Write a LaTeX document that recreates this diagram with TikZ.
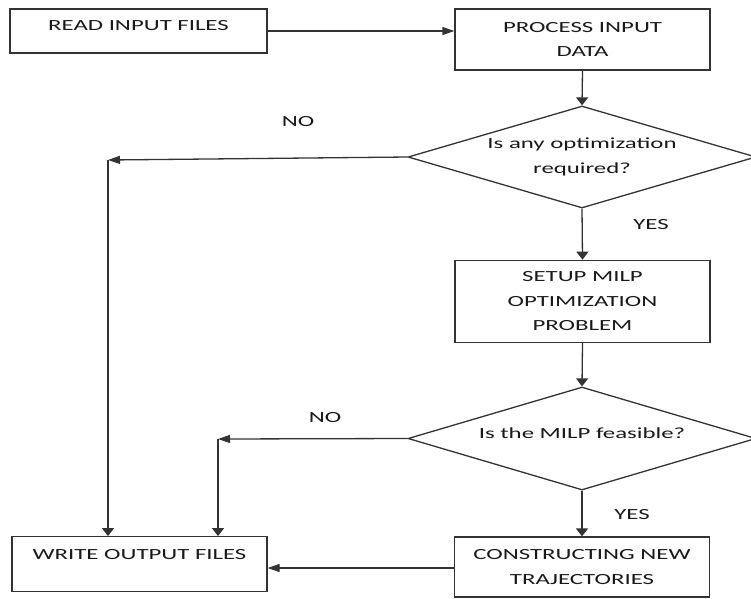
\documentclass[tikz,border=0pt]{standalone}
\usepackage{fontspec}
\setmainfont{Carlito}[FakeStretch=1.6]
\usetikzlibrary{shapes.geometric,arrows.meta}
\newcommand\liftby[2]{\raisebox{#1}[\height][\depth]{#2}}
\tikzset{
  txtfont/.style={font=\fontsize{15.5}{24.4}\selectfont, text=black!90},
  box/.style={draw=black!80, line width=1.3pt, rectangle, minimum width=255pt, inner sep=0pt, align=center, txtfont},
  dec/.style={draw=black!80, line width=1.3pt, diamond, aspect=3.4, inner sep=0pt, minimum width=348pt, align=center, txtfont},
  lab/.style={txtfont, inner sep=0pt},
  harr/.style={draw=black!80, line width=1.3pt, -{Triangle[length=12pt,width=8pt]}},
  varr/.style={draw=black!80, line width=1.3pt, -{Triangle[length=8pt,width=12pt]}},
  conn/.style={draw=black!80, line width=1.3pt},
}
\begin{document}
\begin{tikzpicture}[x=1pt,y=-1pt]
\useasboundingbox[fill=white] (0,0) rectangle (751,598);

\node[box, minimum width=257pt, minimum height=44pt] (read) at (138.5,31) {\liftby{5.7pt}{READ INPUT FILES}};
\node[box, minimum height=61pt] (proc) at (582.5,39.5) {PROCESS INPUT\\DATA};
\node[dec, minimum height=102pt] (d1) at (582,157) {Is any optimization\\required?};
\node[box, minimum height=82pt] (setup) at (582.5,301.3) {SETUP MILP\\OPTIMIZATION\\PROBLEM};
\node[dec, minimum height=103pt] (d2) at (582,438.5) {\liftby{5.5pt}{Is the MILP feasible?}};
\node[box, minimum height=55pt] (write) at (139.5,564.2) {\liftby{9.7pt}{WRITE OUTPUT FILES}};
\node[box, minimum height=60pt] (constr) at (582,567) {CONSTRUCTING NEW\\TRAJECTORIES};

\node[lab] (no1) at (298,122) {NO};
\node[lab] (yes1) at (651,225) {YES};
\node[lab] (no2) at (325,417.5) {NO};
\node[lab] (yes2) at (632,515) {YES};

\coordinate (j1) at (108,160);
\coordinate (j2) at (218,439);

\draw[harr] (read.east |- 0,31) -- (proc.west |- 0,31);
\draw[varr] (proc.south) -- (d1.north);
\draw[harr] (d1.west) -- (j1);
\draw[varr] (j1) -- (j1 |- write.north);
\draw[varr] (d1.south) -- (setup.north);
\draw[varr] (setup.south) -- (d2.north);
\draw[harr] (d2.west) -- (j2);
\draw[varr] (j2) -- (j2 |- write.north);
\draw[varr] (d2.south) -- (constr.north);
\draw[harr] (constr.west |- 0,568) -- (write.east |- 0,568);
\end{tikzpicture}
\end{document}
